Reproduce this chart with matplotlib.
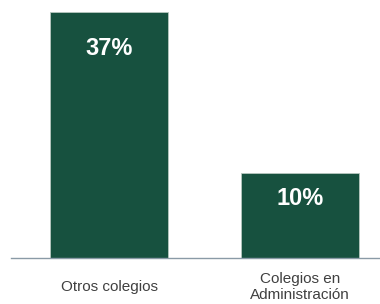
import matplotlib
matplotlib.use("Agg")
import matplotlib.pyplot as plt

categories = ["Otros colegios", "Colegios en\nAdministración"]
values = [37, 10]
labels = ["37%", "10%"]

base = -4.3
bar_color = "#17513f"

fig = plt.figure(figsize=(3.8, 3.04), dpi=100)
ax = fig.add_axes([11/380, 1 - 258/304, 369/380, 258/304])
x = [0, 1]
ax.bar(x, [v - base for v in values], bottom=base, width=0.62, color=bar_color,
       edgecolor="#b8c8c0", linewidth=0.6)
ax.set_xlim(-0.514, 1.42)
ax.set_ylim(base, 39.0)

offsets = [-37, -25.5]
for xi, v, lab, off in zip(x, values, labels, offsets):
    ax.annotate(lab, (xi, v), xytext=(0, off * 72 / 100), textcoords="offset points",
                ha="center", va="center", color="white", fontsize=17,
                fontweight="bold", family="Liberation Sans")

for s in ["top", "right", "left"]:
    ax.spines[s].set_visible(False)
ax.spines["bottom"].set_color("#8a9aa6")
ax.spines["bottom"].set_linewidth(1.0)
ax.set_yticks([])
ax.set_xticks(x)
ax.set_xticklabels(categories, fontsize=11, color="#404040", family="Liberation Sans",
                   linespacing=1.2, va="center")
ax.tick_params(axis="x", length=0, pad=21)
fig.savefig("out.png", dpi=100)
